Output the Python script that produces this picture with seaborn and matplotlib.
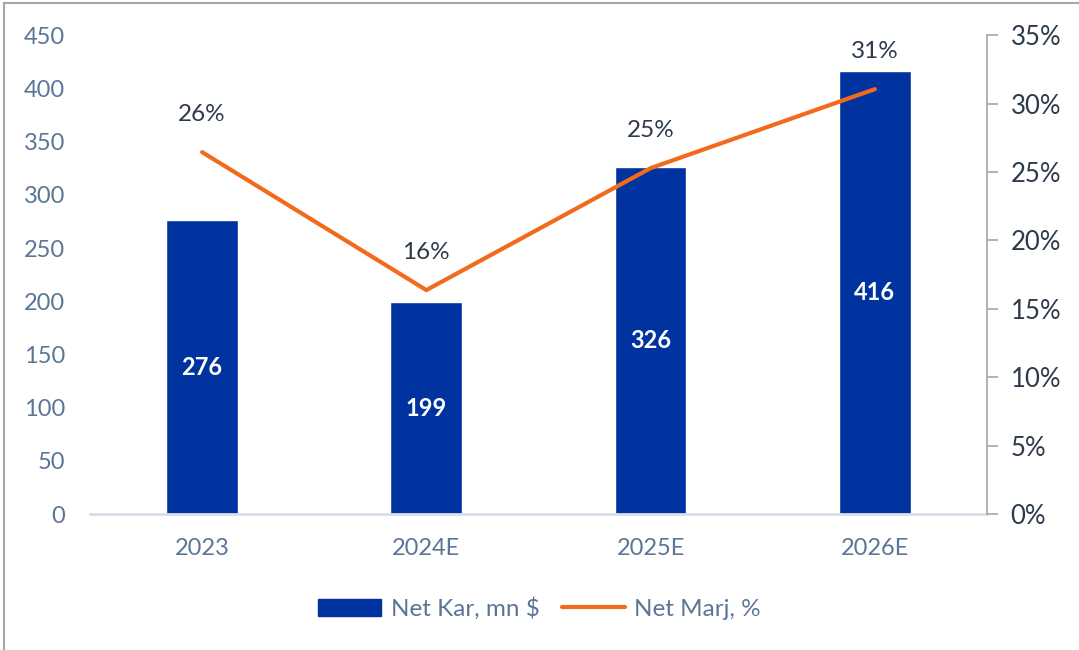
import pandas as pd
import matplotlib.pyplot as plt
import seaborn as sns
from matplotlib.patches import Rectangle
from matplotlib.ticker import FuncFormatter
from matplotlib.lines import Line2D

# datos
years = ["2023", "2024E", "2025E", "2026E"]
net_kar = [276, 199, 326, 416]
net_marj = [26.45, 16.37, 25.28, 31.05]
marj_labels = ["26%", "16%", "25%", "31%"]

df = pd.DataFrame({"Yil": years, "Net Kar": net_kar, "Net Marj": net_marj})

sns.set_theme(style="white")
plt.rcParams["font.family"] = ["Lato", "DejaVu Sans"]

blue = "#0033A0"
orange = "#F26B1D"
tick_col = "#5B7597"
dark = "#2E3A4B"

fig = plt.figure(figsize=(10.79, 6.5), dpi=100)
ax = fig.add_axes([0.0834, 0.209, 0.8313, 0.737])

sns.barplot(data=df, x="Yil", y="Net Kar", color=blue, width=0.32,
            saturation=1, ax=ax)
ax.set_ylim(0, 450)
ax.set_yticks(range(0, 451, 50))
ax.set_xlim(-0.5, 3.5)
ax.set_xlabel("")
ax.set_ylabel("")
for s in ["top", "right", "left"]:
    ax.spines[s].set_visible(False)
ax.spines["bottom"].set_color("#D9DEE8")
ax.spines["bottom"].set_linewidth(2)
ax.tick_params(axis="y", length=0, labelsize=17, labelcolor=tick_col, pad=18)
ax.tick_params(axis="x", length=0, labelsize=17, labelcolor=tick_col, pad=17)

ax.bar_label(ax.containers[0], labels=[str(v) for v in net_kar], label_type="center",
             color="white", fontsize=17, fontweight="bold")

ax2 = ax.twinx()
sns.lineplot(data=df, x="Yil", y="Net Marj", color=orange, linewidth=3, ax=ax2)
ax2.set_ylim(0, 35)
ax2.set_yticks(range(0, 36, 5))
ax2.yaxis.set_major_formatter(FuncFormatter(lambda v, p: f"{v:.0f}%"))
ax2.set_ylabel("")
for s in ["top", "left", "bottom"]:
    ax2.spines[s].set_visible(False)
ax2.spines["right"].set_color("#A6A6A6")
ax2.spines["right"].set_linewidth(1.2)
ax2.tick_params(axis="y", length=8, width=1.2, color="#A6A6A6", direction="out",
                labelsize=18.5, labelcolor=dark, pad=9)

for i, (v, lab) in enumerate(zip(net_marj, marj_labels)):
    ax2.annotate(lab, (i, v), xytext=(0, 27), textcoords="offset points",
                 ha="center", va="center", fontsize=17.5, color=dark)

handles = [Rectangle((0, 0), 1, 1, color=blue),
           Line2D([0], [0], color=orange, linewidth=3)]
fig.legend(handles, ["Net Kar, mn $", "Net Marj, %"], loc="center",
           bbox_to_anchor=(0.5, 0.064), ncol=2, frameon=False, fontsize=17.5,
           labelcolor=tick_col, handlelength=2.6, handleheight=0.7,
           columnspacing=0.9, handletextpad=0.4)

fig.patches.append(Rectangle((4 / 1079, -0.1), 1.2, 1.1 - 3 / 650,
                             transform=fig.transFigure, fill=False,
                             edgecolor="#A6A6A6", linewidth=1.5))

fig.savefig("out.png", dpi=100)
